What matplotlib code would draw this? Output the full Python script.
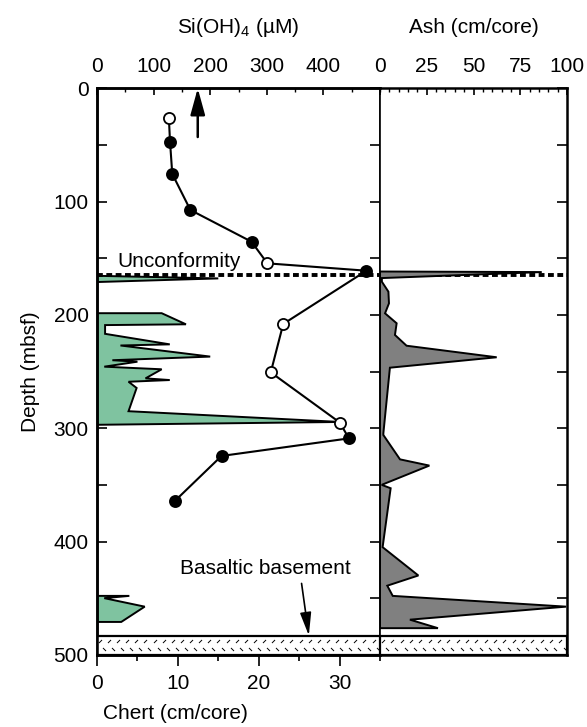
import numpy as np
import matplotlib
matplotlib.use("Agg")
import matplotlib.pyplot as plt
from matplotlib.ticker import MultipleLocator

plt.rcParams['font.family'] = ['Liberation Sans', 'DejaVu Sans']
plt.rcParams['font.size'] = 15
plt.rcParams['mathtext.fontset'] = 'custom'
plt.rcParams['mathtext.rm'] = 'Liberation Sans'
plt.rcParams['mathtext.it'] = 'Liberation Sans:italic'

# pore-water silica profile (depth in mbsf, Si in uM), open = separate hole
si_depth = [26.5, 47, 75.6, 107.4, 135.4, 154.5, 161, 208, 250.7, 295, 309, 324.5, 364]
si_value = [127, 129, 133, 165, 273, 301, 476, 329, 307, 429, 445, 220, 138]
si_open = [True, False, False, False, False, True, False, True, True, True, False, False, False]

# chert abundance, one list per interval
chert_depth_1 = [165.5, 167.8, 171]
chert_value_1 = [0, 15.0, 0]
chert_depth_2 = [198.5, 198.5, 208.3, 209, 216.7, 226, 227, 236.8, 240, 241.3, 245.7,
                 248, 256, 257.5, 259, 264.5, 285, 294.5, 297]
chert_value_2 = [0, 8.0, 11.0, 1.0, 1.0, 9.0, 2.9, 14.0, 1.9, 5.0, 0.9,
                 8.0, 6.0, 9.0, 3.9, 4.9, 3.9, 30.1, 0]
chert_depth_3 = [448, 448, 450, 457.5, 471, 471]
chert_value_3 = [0, 4.0, 0.9, 5.9, 3.0, 0]

# ash abundance
ash_depth = [161.7, 162.2, 167.5, 170.7, 179.5, 189.8, 198.6, 207.4, 217.7, 227.2, 237.4,
             246.6, 304.5, 306, 327.5, 333, 350, 353, 405, 430, 439, 448, 457.5, 469,
             476.5, 476.5]
ash_value = [0, 86.5, 1.0, 1.0, 4.5, 4.8, 2.7, 8.9, 8.0, 14.2, 62.4,
             5.3, 1.8, 1.8, 10.7, 26.4, 0.9, 5.7, 1.4, 20.5, 3.9, 6.8, 99.5, 16,
             31, 0]

unconformity_depth = 165
basement_depth = 483
max_depth = 500
si_arrow = 178

green = '#7fc3a0'
grey = '#808080'

fig = plt.figure(figsize=(5.87, 7.27), dpi=100)
bottom = (727 - 654.8) / 727
height = 566.5 / 727
ax = fig.add_axes([97 / 587, bottom, 283 / 587, height])
axr = fig.add_axes([380 / 587, bottom, 187 / 587, height], sharey=ax)
ax_si = ax.twiny()

ax.set_ylim(max_depth, 0)
ax.set_xlim(0, 35)
ax_si.set_xlim(0, 500)
axr.set_xlim(0, 100)

# chert
for cd, cv in [(chert_depth_1, chert_value_1), (chert_depth_2, chert_value_2),
               (chert_depth_3, chert_value_3)]:
    ax.fill(cv, cd, facecolor=green, edgecolor='k', lw=1.4, zorder=2)

# ash
axr.fill(ash_value, ash_depth, facecolor=grey, edgecolor='k', lw=1.4, zorder=3)

# unconformity
ax.axhline(unconformity_depth, color='k', lw=2.8, ls=(0, (1.5, 0.9)), zorder=3)
axr.axhline(unconformity_depth, color='k', lw=2.8, ls=(0, (1.5, 0.9)), zorder=2)
ax.text(2.5, 158, 'Unconformity', ha='left', va='baseline')

# silica profile
ax_si.plot(si_value, si_depth, color='k', lw=1.5, zorder=4)
for d, v, o in zip(si_depth, si_value, si_open):
    ax_si.plot(v, d, 'o', ms=8, mec='k', mew=1.3, mfc='white' if o else 'k', zorder=5)
ax_si.annotate('', xy=(si_arrow, 0), xytext=(si_arrow, 43),
               arrowprops=dict(arrowstyle='-|>,head_length=0.8,head_width=0.22',
                               mutation_scale=20, lw=1.8, color='k', shrinkA=0, shrinkB=0))

# basement, with small basalt dashes
for a in (ax, axr):
    a.axhspan(basement_depth, max_depth, facecolor='white', edgecolor='k', lw=1.6, zorder=3)
    w = a.get_position().width * 587
    n = int(w / 9)
    xs = (np.arange(n) + 0.3) / n
    tr = a.get_yaxis_transform()
    a.plot(xs, np.full(n, 488), ls='none', marker=[(-1, -1), (1, 1)], ms=2.2,
           mec='k', mew=0.7, transform=tr, zorder=4)
    a.plot(xs + 0.45 / n, np.full(n, 495), ls='none', marker=[(-1, 1), (1, -1)], ms=2.2,
           mec='k', mew=0.7, transform=tr, zorder=4)

ax.text(20.8, 424, 'Basaltic basement', ha='center', va='center')
ax.annotate('', xy=(26.2, basement_depth), xytext=(25.3, 437),
            arrowprops=dict(arrowstyle='-|>,head_length=0.7,head_width=0.17',
                            mutation_scale=20, lw=1.2, color='k', shrinkA=0, shrinkB=0))

# axes styling
for s in ['left', 'top', 'bottom']:
    ax.spines[s].set_linewidth(1.8)
    ax_si.spines[s].set_linewidth(1.8)
ax.spines['right'].set_linewidth(1.2)
ax_si.spines['right'].set_linewidth(1.2)
for s in ['right', 'top', 'bottom']:
    axr.spines[s].set_linewidth(1.8)
axr.spines['left'].set_visible(False)

ax.yaxis.set_major_locator(MultipleLocator(100))
ax.yaxis.set_minor_locator(MultipleLocator(50))
ax.tick_params(axis='y', which='both', direction='in', left=True, right=True,
               length=7, width=1.2, pad=6)
ax.xaxis.set_major_locator(MultipleLocator(10))
ax.xaxis.set_minor_locator(MultipleLocator(5))
ax.tick_params(axis='x', which='major', direction='out', length=8, width=1.2, pad=6)
ax.tick_params(axis='x', which='minor', direction='out', length=4, width=1.2)
ax.set_ylabel('Depth (mbsf)', labelpad=10)
ax.set_xlabel('Chert (cm/core)')
ax.xaxis.set_label_coords(0.276, -0.086)

ax_si.set_xticks([0, 100, 200, 300, 400])
ax_si.xaxis.set_minor_locator(MultipleLocator(50))
ax_si.tick_params(axis='x', which='major', direction='in', length=5, width=1.2, pad=9)
ax_si.tick_params(axis='x', which='minor', direction='in', length=3, width=1.0)
ax_si.set_xlabel('Si(OH)$_4$ (\u00b5M)', labelpad=17)

axr.xaxis.set_ticks_position('top')
axr.xaxis.set_label_position('top')
axr.set_xticks([0, 25, 50, 75, 100])
axr.xaxis.set_minor_locator(MultipleLocator(5))
axr.tick_params(axis='x', which='major', direction='in', length=5, width=1.2, pad=9)
axr.tick_params(axis='x', which='minor', direction='in', length=3, width=1.0)
axr.tick_params(axis='y', which='both', direction='in', left=False, right=True,
                labelleft=False, length=7, width=1.2)
axr.set_xlabel('Ash (cm/core)', labelpad=17)

fig.savefig('out.png', dpi=100)
